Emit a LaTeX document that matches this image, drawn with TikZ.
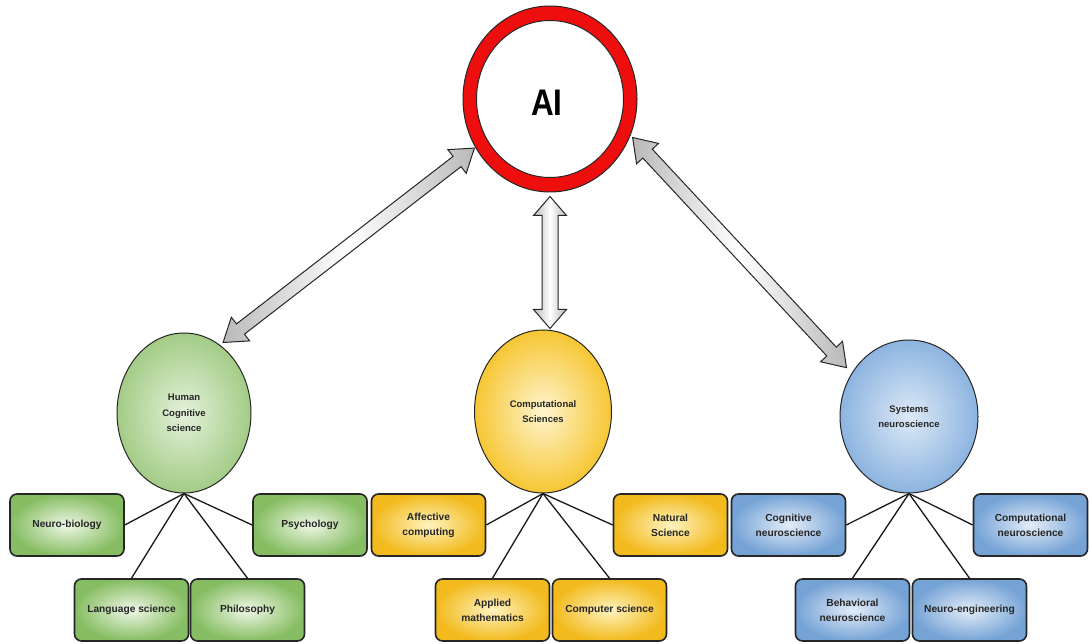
\documentclass[tikz,border=0pt]{standalone}
\usepackage{fontspec}
\setmainfont{Liberation Sans}
\usetikzlibrary{shapes.geometric,calc}

\definecolor{aired}{HTML}{EE0E0E}
\definecolor{gIn}{HTML}{EEF7E6}
\definecolor{gOut}{HTML}{86BD62}
\definecolor{geIn}{HTML}{E4F1DA}
\definecolor{geOut}{HTML}{A3CC86}
\definecolor{yIn}{HTML}{FFF3BF}
\definecolor{yOut}{HTML}{F2BA1C}
\definecolor{yeIn}{HTML}{FFF5CF}
\definecolor{yeOut}{HTML}{F6C633}
\definecolor{bIn}{HTML}{E3EDF8}
\definecolor{bOut}{HTML}{76A3D6}
\definecolor{beIn}{HTML}{DDE9F6}
\definecolor{beOut}{HTML}{8CB4E0}

\newcommand\dblarrow[5]{%
  \path (#1); \pgfgetlastxy{\ax}{\ay}%
  \path (#2); \pgfgetlastxy{\bx}{\by}%
  \pgfmathsetmacro\aang{atan2(\by-\ay,\bx-\ax)}%
  \pgfmathsetmacro\alen{veclen(\bx-\ax,\by-\ay)}%
  \begin{scope}[shift={(#1)},rotate=\aang]
    \draw[biarrow] (0,0) -- (#5,#4) -- (#5,#3) -- (\alen-#5,#3) -- (\alen-#5,#4)
      -- (\alen,0) -- (\alen-#5,-#4) -- (\alen-#5,-#3) -- (#5,-#3) -- (#5,-#4) -- cycle;
  \end{scope}}

\tikzset{
  biarrow/.style={draw=black!85, line width=1pt, left color=gray!55, right color=gray!55, middle color=white},
  topic/.style={ellipse, draw=black!85, line width=1pt, inner sep=0pt, align=center,
    font=\bfseries\fontsize{9.5}{15.5}\selectfont, text=black!85},
  sub/.style={rectangle, rounded corners=7pt, draw=black!85, line width=1.6pt,
    minimum width=114pt, minimum height=62pt, inner sep=2pt, align=center,
    font=\bfseries\fontsize{10.2}{15}\selectfont, text=black!85},
  gbox/.style={sub, inner color=gIn, outer color=gOut},
  ybox/.style={sub, inner color=yIn, outer color=yOut},
  bbox/.style={sub, inner color=bIn, outer color=bOut},
  link/.style={draw=black!90, line width=1.3pt}
}

\begin{document}
\begin{tikzpicture}[x=1pt,y=1pt]
\useasboundingbox (0,0) rectangle (1090,643);

% AI ring
\node[ellipse, minimum width=174pt, minimum height=186pt, inner sep=0pt, fill=aired, draw=black!85, line width=1pt] (ai) at (550,544) {};
\node[ellipse, minimum width=147pt, minimum height=157pt, inner sep=0pt, fill=white, draw=black!85, line width=1pt] (aiin) at (ai.center) {};
\node[font=\bfseries\fontsize{37}{40}\selectfont, xscale=0.85] (ailab) at (547,540) {AI};

% topic ellipses
\node[topic, minimum width=134pt, minimum height=160pt, inner color=geIn, outer color=geOut] (hcs) at (184,230) {Human\\Cognitive\\science};
\node[topic, minimum width=137pt, minimum height=163pt, inner color=yeIn, outer color=yeOut] (cs) at (543,231.5) {Computational\\Sciences};
\node[topic, minimum width=138pt, minimum height=153pt, inner color=beIn, outer color=beOut] (sn) at (909,226.5) {Systems\\neuroscience};

% boxes
\node[gbox] (nb) at (67,118) {Neuro-biology};
\node[gbox] (psy) at (310,118) {Psychology};
\node[gbox] (ls) at (131.5,33) {Language science};
\node[gbox] (phil) at (247.5,33) {Philosophy};

\node[ybox] (ac) at (428.5,118) {Affective\\computing};
\node[ybox] (ns) at (670.5,118) {Natural\\Science};
\node[ybox] (am) at (492.5,33) {Applied\\mathematics};
\node[ybox] (csc) at (609.5,33) {Computer science};

\node[bbox] (cn) at (788.5,118) {Cognitive\\neuroscience};
\node[bbox] (cpn) at (1030.5,118) {Computational\\neuroscience};
\node[bbox] (bn) at (852.5,33) {Behavioral\\neuroscience};
\node[bbox] (ne) at (969.5,33) {Neuro-engineering};

% links
\foreach \t/\a/\b/\c/\d in {hcs/nb/psy/ls/phil, cs/ac/ns/am/csc, sn/cn/cpn/bn/ne}{
  \draw[link] (\t.south) -- (\a.east);
  \draw[link] (\t.south) -- (\b.west);
  \draw[link] (\t.south) -- (\c.north);
  \draw[link] (\t.south) -- (\d.north);
}

% arrow end points
\coordinate (la) at ($(ai.center)!1.01!(ai.213)$);
\coordinate (lb) at ($(hcs.center)!1.05!(hcs.61)$);
\coordinate (ma) at ($(ai.south)+(0,-4)$);
\coordinate (mb) at ($(ai.south |- cs.north)+(0,1)$);
\coordinate (ra) at ($(ai.center)!1.03!(ai.335)$);
\coordinate (rb) at ($(sn.center)!1.10!(sn.142)$);

\dblarrow{lb}{la}{6.5}{15}{22}
\dblarrow{mb}{ma}{8}{16.5}{19}
\dblarrow{ra}{rb}{6.5}{15}{22}
\end{tikzpicture}
\end{document}
